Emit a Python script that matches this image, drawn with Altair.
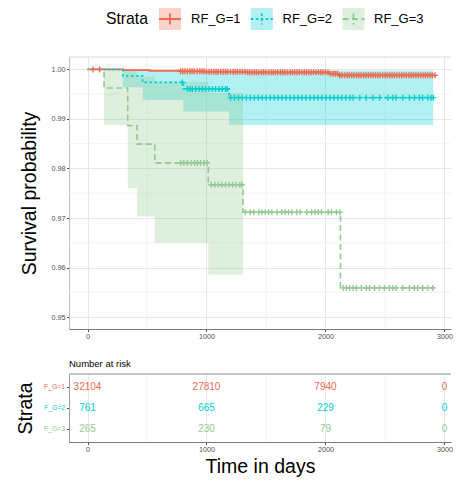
import altair as alt
import pandas as pd

# ---------------- data ----------------
strata = ["RF_G=1", "RF_G=2", "RF_G=3"]
risk_rows = ["F_G=1", "F_G=2", "F_G=3"]
colors = ["#EE6A50", "#00CED1", "#93C993"]
dashes = [[1, 0], [2.5, 2.5], [6, 3.5]]

# Kaplan-Meier step curves (time, survival)
t1 = [0, 300, 520, 780, 1000, 1340, 2040, 2110, 2920]
s1 = [1.0, 0.99985, 0.9997, 0.9996, 0.99952, 0.9994, 0.9991, 0.9988, 0.9988]
t2 = [0, 297, 463, 805, 1190, 2910]
s2 = [1.0, 0.99869, 0.99737, 0.99606, 0.9943, 0.9943]
t3 = [0, 139, 338, 416, 566, 1015, 1307, 2126, 2920]
s3 = [1.0, 0.99623, 0.98868, 0.98491, 0.98113, 0.9767, 0.97115, 0.9559, 0.9559]

# censoring times
c1 = [46, 102, 782, 801, 818, 840, 861, 879, 897, 921, 944, 962, 979, 1000, 1021, 1042,
      1063, 1081, 1098, 1120, 1142, 1160, 1177, 1201, 1224, 1240, 1259, 1281, 1302, 1323,
      1345, 1362, 1381, 1401, 1420, 1441, 1463, 1480, 1499, 1522, 1544, 1561, 1580, 1600,
      1622, 1640, 1658, 1681, 1703, 1722, 1741, 1760, 1779, 1801, 1822, 1840, 1860, 1880,
      1899, 1920, 1941, 1960, 1978, 2000, 2021, 2042, 2063, 2082, 2101, 2120, 2139, 2161,
      2182, 2200, 2220, 2240, 2261, 2280, 2299, 2320, 2340, 2361, 2381, 2400, 2420, 2440,
      2459, 2481, 2502, 2520, 2541, 2560, 2579, 2600, 2622, 2641, 2660, 2680, 2701, 2720,
      2739, 2760, 2780, 2800, 2821, 2840, 2859, 2880, 2898, 2921]
c2 = [798, 840, 862, 881, 909, 937, 965, 992, 1021, 1048, 1076, 1104, 1132, 1160, 1174,
      1202, 1235, 1269, 1302, 1336, 1369, 1402, 1436, 1469, 1503, 1536, 1569, 1603,
      1636, 1670, 1703, 1736, 1770, 1803, 1837, 1870, 1903, 1937, 1970, 2004, 2037,
      2070, 2104, 2137, 2171, 2204, 2232, 2288, 2343, 2399, 2455, 2524, 2566, 2594,
      2650, 2705, 2747, 2789, 2817, 2859, 2887, 2906]
c3 = [784, 810, 840, 870, 900, 923, 950, 980, 1005, 1040, 1070, 1100, 1130, 1160, 1190,
      1220, 1250, 1280, 1300, 1327, 1368, 1397, 1439, 1466, 1494, 1522, 1550, 1592,
      1633, 1661, 1689, 1717, 1758, 1786, 1842, 1884, 1911, 1939, 1967, 2023, 2050,
      2092, 2120, 2149, 2176, 2204, 2232, 2260, 2301, 2343, 2371, 2413, 2454, 2496,
      2538, 2566, 2594, 2650, 2705, 2747, 2775, 2817, 2859, 2901]

# confidence bands (step start times, lower, upper)
b1_t = [300, 780, 1340, 2110, 2920]
b1_lo = [0.9997, 0.9994, 0.9991, 0.9985, 0.9985]
b1_hi = [1.0, 0.99985, 0.99965, 0.9992, 0.9992]
b2_t = [297, 463, 805, 1190, 2905]
b2_lo = [0.9964, 0.9938, 0.9915, 0.9888, 0.9888]
b2_hi = [0.9998, 0.9998, 0.9998, 0.9998, 0.9998]
b3_t = [139, 338, 416, 566, 1015, 1307]
b3_lo = [0.9888, 0.9760, 0.9703, 0.9650, 0.9586, 0.9586]
b3_hi = [1.0, 1.0, 0.9985, 0.9975, 0.9953, 0.9953]

# number at risk
risk_times = [0, 1000, 2000, 3000]
risk1 = [32104, 27810, 7940, 0]
risk2 = [761, 665, 229, 0]
risk3 = [265, 230, 79, 0]

x_major = [0, 1000, 2000, 3000]
x_minor = [500, 1500, 2500]
y_major = [0.95, 0.96, 0.97, 0.98, 0.99, 1.00]
y_minor = [0.955, 0.965, 0.975, 0.985, 0.995]

# ---------------- frames ----------------
def surv_at(ts, ss, t):
    v = ss[0]
    for ti, si in zip(ts, ss):
        if ti <= t:
            v = si
    return v

curves = [(t1, s1), (t2, s2), (t3, s3)]
cens = [c1, c2, c3]
bands = [(b1_t, b1_lo, b1_hi), (b2_t, b2_lo, b2_hi), (b3_t, b3_lo, b3_hi)]

line_rows, cens_rows, band_rows = [], [], []
for k, name in enumerate(strata):
    ts, ss = curves[k]
    for t, s in zip(ts, ss):
        line_rows.append({"strata": name, "time": t, "surv": s})
    for t in cens[k]:
        cens_rows.append({"strata": name, "time": t, "surv": surv_at(ts, ss, t)})
    bt, blo, bhi = bands[k]
    for t, lo, hi in zip(bt, blo, bhi):
        band_rows.append({"strata": name, "time": t, "lo": lo, "hi": hi})

line_df = pd.DataFrame(line_rows)
cens_df = pd.DataFrame(cens_rows)
band_df = pd.DataFrame(band_rows)

risk_rows_data = []
for k, row in enumerate(risk_rows):
    for t, n in zip(risk_times, [risk1, risk2, risk3][k]):
        risk_rows_data.append({"row": row, "time": t, "n": n})
risk_df = pd.DataFrame(risk_rows_data)

# ---------------- styling ----------------
FONT = "Liberation Sans"
W = 382
H_MAIN = 272
H_TAB = 68
XDOM = [-155.5, 3055]
YDOM = [0.9476, 1.0025]
GRID_MAJ = "#e6e6e6"
GRID_MIN = "#f3f3f3"
TITLE_FS = 19.5

color_scale = alt.Scale(domain=strata, range=colors)
dash_scale = alt.Scale(domain=strata, range=dashes)
xs = alt.Scale(domain=XDOM, nice=False, zero=False)
ys = alt.Scale(domain=YDOM, nice=False, zero=False)

# ---------------- legend ----------------
leg_df = pd.DataFrame({"strata": strata})
LEG_Y = 11
sq_x = alt.Scale(domain=strata, type="point", range=[101, 284.5], padding=0)
lab_x = alt.Scale(domain=strata, type="point", range=[122, 305], padding=0)
leg_sq = alt.Chart(leg_df).mark_square(size=22 * 22, opacity=0.3, filled=True).encode(
    x=alt.X("strata:N", scale=sq_x, axis=None),
    y=alt.value(LEG_Y),
    color=alt.Color("strata:N", scale=color_scale, legend=None),
)
leg_key = alt.Chart(leg_df).mark_point(
    shape="M-1,0H1M0,-0.5V0.5", size=22 * 22, filled=False, strokeWidth=1.8, opacity=1
).encode(
    x=alt.X("strata:N", scale=sq_x, axis=None),
    y=alt.value(LEG_Y),
    color=alt.Color("strata:N", scale=color_scale, legend=None),
    strokeDash=alt.StrokeDash("strata:N", scale=dash_scale, legend=None),
)
leg_lab = alt.Chart(leg_df).mark_text(align="left", baseline="middle", fontSize=13, font=FONT).encode(
    x=alt.X("strata:N", scale=lab_x, axis=None),
    y=alt.value(LEG_Y),
    text="strata:N",
)
leg_title = alt.Chart(pd.DataFrame({"t": ["Strata"]})).mark_text(
    align="left", baseline="middle", fontSize=15.7, font=FONT
).encode(x=alt.value(37), y=alt.value(LEG_Y), text="t:N")

legend = alt.layer(leg_sq, leg_key, leg_lab, leg_title).resolve_scale(x="independent").properties(
    width=W, height=30, view=alt.ViewBackground(stroke=None)
)

# ---------------- main plot ----------------
minor_x = alt.Chart(pd.DataFrame({"v": x_minor})).mark_rule(color=GRID_MIN, strokeWidth=1).encode(
    x=alt.X("v:Q", scale=xs)
)
minor_y = alt.Chart(pd.DataFrame({"v": y_minor})).mark_rule(color=GRID_MIN, strokeWidth=1).encode(
    y=alt.Y("v:Q", scale=ys)
)
top_border = alt.Chart(pd.DataFrame({"v": [0]})).mark_rule(color="#d9d9d9", strokeWidth=1).encode(
    y=alt.value(0), x=alt.value(0), x2=alt.value(W)
)
band = alt.Chart(band_df).mark_area(interpolate="step-after", opacity=0.3).encode(
    x=alt.X("time:Q", scale=xs),
    y=alt.Y("lo:Q", scale=ys),
    y2="hi:Q",
    color=alt.Color("strata:N", scale=color_scale, legend=None),
    detail="strata:N",
)
lines = alt.Chart(line_df).mark_line(interpolate="step-after", strokeWidth=1.6).encode(
    x=alt.X("time:Q", scale=xs, title=None,
            axis=alt.Axis(values=x_major, format="d", labelFontSize=7.2, labelColor="#4d4d4d",
                          tickSize=2.5, labelPadding=1, tickColor="#4d4d4d", domainColor="#7a7a7a",
                          gridColor=GRID_MAJ, labelFont=FONT)),
    y=alt.Y("surv:Q", scale=ys, title="Survival probability",
            axis=alt.Axis(values=y_major, format=".2f", labelFontSize=7.2, labelColor="#4d4d4d",
                          tickSize=2.5, labelPadding=1.5, tickColor="#4d4d4d", domainColor="#bdbdbd",
                          gridColor=GRID_MAJ, titleFontSize=TITLE_FS, titleFontWeight="normal",
                          titlePadding=12, titleFont=FONT, labelFont=FONT, titleColor="#000")),
    color=alt.Color("strata:N", scale=color_scale, legend=None),
    strokeDash=alt.StrokeDash("strata:N", scale=dash_scale, legend=None),
)
censor = alt.Chart(cens_df).mark_point(
    shape="M-1,0H1M0,-1V1", size=36, filled=False, strokeWidth=1.4, opacity=1
).encode(
    x=alt.X("time:Q", scale=xs),
    y=alt.Y("surv:Q", scale=ys),
    color=alt.Color("strata:N", scale=color_scale, legend=None),
)
main = alt.layer(minor_x, minor_y, top_border, band, lines, censor).properties(
    width=W, height=H_MAIN, view=alt.ViewBackground(stroke=None)
)

# ---------------- risk table ----------------
tys = alt.Scale(domain=risk_rows, type="point", padding=0.6)
row_colors = alt.Scale(domain=risk_rows, range=colors)
t_minor = alt.Chart(pd.DataFrame({"v": x_minor})).mark_rule(color=GRID_MIN, strokeWidth=1).encode(
    x=alt.X("v:Q", scale=xs)
)
t_border = alt.Chart(pd.DataFrame({"v": [0]})).mark_rule(color="#b3b3b3", strokeWidth=1.3).encode(
    y=alt.value(0), x=alt.value(0), x2=alt.value(W)
)
t_text = alt.Chart(risk_df).mark_text(fontSize=10, font=FONT, baseline="middle").encode(
    x=alt.X("time:Q", scale=xs, title="Time in days",
            axis=alt.Axis(values=x_major, format="d", labelFontSize=7.2, labelColor="#4d4d4d",
                          tickSize=2.5, labelPadding=1, tickColor="#4d4d4d", domainColor="#7a7a7a",
                          gridColor=GRID_MAJ, titleFontSize=TITLE_FS, titleFontWeight="normal",
                          titlePadding=5, titleFont=FONT, labelFont=FONT, titleColor="#000")),
    y=alt.Y("row:N", scale=tys, title="Strata",
            axis=alt.Axis(labels=False, tickSize=2.5, tickColor="#4d4d4d", domainColor="#9a9a9a",
                          gridColor=GRID_MAJ, titleFontSize=TITLE_FS, titleFontWeight="normal",
                          titlePadding=31, titleFont=FONT, titleColor="#000")),
    text="n:Q",
    color=alt.Color("row:N", scale=row_colors, legend=None),
)
t_labels = alt.Chart(pd.DataFrame({"row": risk_rows})).mark_text(
    align="right", baseline="middle", fontSize=6.8, font=FONT
).encode(
    x=alt.value(-4),
    y=alt.Y("row:N", scale=tys),
    text="row:N",
    color=alt.Color("row:N", scale=row_colors, legend=None),
)
table = alt.layer(t_minor, t_border, t_text, t_labels).properties(
    width=W, height=H_TAB, view=alt.ViewBackground(stroke=None),
    title=alt.TitleParams("Number at risk", anchor="start", frame="group", fontSize=9.5, font=FONT,
                          fontWeight="normal", offset=5, color="#000"),
)

chart = alt.vconcat(legend, main, table, spacing=18).properties(
    padding={"left": 7, "top": 0, "right": 0, "bottom": 0}
).configure(font=FONT)

chart.save("out.html", embed_options={"renderer": "svg", "actions": False})
